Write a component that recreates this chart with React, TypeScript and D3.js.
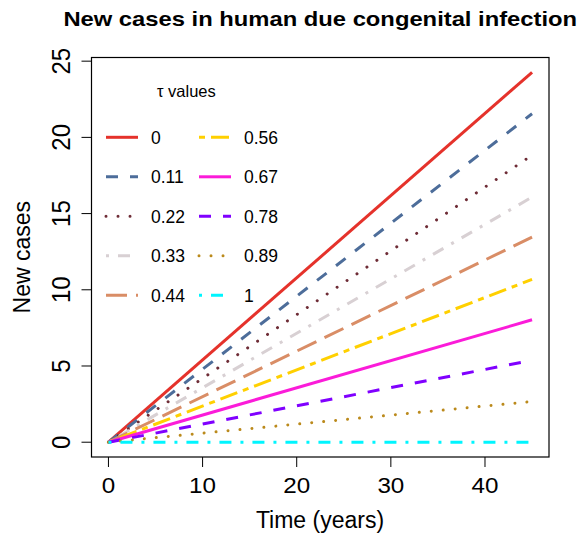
import React from "react";
import * as d3 from "d3";

const tauLabels = ["0", "0.11", "0.22", "0.33", "0.44", "0.56", "0.67", "0.78", "0.89", "1"];
const timeStart = 0;
const timeEnd = 45;
const casesAtStart = [0, 0, 0, 0, 0, 0, 0, 0, 0, 0];
const casesAtEnd = [24.27, 21.55, 18.83, 16.08, 13.45, 10.68, 8.03, 5.37, 2.67, 0];
const colors = ["#E5322B", "#4D6D9A", "#6E2C36", "#D8D0D3", "#D98D66", "#FFD000", "#FB1BD9", "#8000FF", "#BB8A1C", "#00F5FF"];
const ltys = ["solid", "dashed", "dotted", "dotdash", "longdash", "twodash", "solid", "dashed", "dotted", "dotdash"];
const xTicks = [0, 10, 20, 30, 40];
const yTicks = [0, 5, 10, 15, 20, 25];

const W = 582, H = 537;
const L = 91.5, R = 549, T = 57.5, B = 457;
const LW = 3;

function dashFor(lty: string): string | undefined {
  switch (lty) {
    case "dashed": return `${4 * LW} ${4 * LW}`;
    case "dotted": return `0.01 ${4 * LW}`;
    case "dotdash": return `${LW} ${3 * LW} ${4 * LW} ${3 * LW}`;
    case "longdash": return `${7 * LW} ${3 * LW}`;
    case "twodash": return `${2 * LW} ${2 * LW} ${6 * LW} ${2 * LW}`;
    default: return undefined;
  }
}

export default function App() {
  const xMin = timeStart, xMax = timeEnd;
  const yMin = 0, yMax = d3.max(casesAtEnd) as number;
  const xPad = (xMax - xMin) * 0.04, yPad = (yMax - yMin) * 0.04;
  const x = d3.scaleLinear().domain([xMin - xPad, xMax + xPad]).range([L, R]);
  const y = d3.scaleLinear().domain([yMin - yPad, yMax + yPad]).range([B, T]);
  const line = d3.line<[number, number]>().x((d) => x(d[0])).y((d) => y(d[1]));

  const font = "'Liberation Sans', Arial, Helvetica, sans-serif";
  const legendRows = 5;
  const legendY0 = 137.3, legendDY = 39.5;
  const colX = [106, 199];
  const segLen = 32;
  const labelOff = 45;
  const cx = (L + R) / 2;

  return (
    <svg width={W} height={H} style={{ position: "absolute", left: 0, top: 0, background: "#fff" }} fontFamily={font}>
      <rect x={0} y={0} width={W} height={H} fill="#fff" />
      <text x={cx} y={26.5} textAnchor="middle" fontWeight="bold" fontSize={20.5} transform={`translate(${cx},0) scale(1.16,1) translate(${-cx},0)`}>
        New cases in human due congenital infection
      </text>

      {tauLabels.map((t, i) => (
        <path
          key={t}
          d={line([[timeStart, casesAtStart[i]], [timeEnd, casesAtEnd[i]]]) || ""}
          fill="none"
          stroke={colors[i]}
          strokeWidth={LW}
          strokeDasharray={dashFor(ltys[i])}
          strokeLinecap={ltys[i] === "dotted" ? "round" : "butt"}
        />
      ))}

      <rect x={L} y={T} width={R - L} height={B - T} fill="none" stroke="#000" strokeWidth={1.2} />

      {xTicks.map((v) => (
        <g key={v}>
          <line x1={x(v)} x2={x(v)} y1={B} y2={B + 10} stroke="#000" strokeWidth={1} />
          <text x={x(v)} y={493} textAnchor="middle" fontSize={22} transform={`translate(${x(v)},0) scale(1.1,1) translate(${-x(v)},0)`}>{v}</text>
        </g>
      ))}
      {yTicks.map((v) => (
        <g key={v}>
          <line x1={L - 10} x2={L} y1={y(v)} y2={y(v)} stroke="#000" strokeWidth={1} />
          <text transform={`translate(70,${y(v)}) scale(1.05,1) rotate(-90)`} textAnchor="middle" fontSize={24}>{v}</text>
        </g>
      ))}

      <text x={320} y={527.5} textAnchor="middle" fontSize={23}>Time (years)</text>
      <text transform={`translate(29.5,${(T + B) / 2}) rotate(-90)`} textAnchor="middle" fontSize={23}>New cases</text>

      <text x={157} y={96.5} fontSize={16.5}>τ values</text>
      {tauLabels.map((t, i) => {
        const col = Math.floor(i / legendRows);
        const row = i % legendRows;
        const cy = legendY0 + row * legendDY;
        const x0 = colX[col];
        return (
          <g key={"lg" + t}>
            <line x1={x0} x2={x0 + segLen} y1={cy} y2={cy} stroke={colors[i]} strokeWidth={LW}
              strokeDasharray={dashFor(ltys[i])} strokeLinecap={ltys[i] === "dotted" ? "round" : "butt"} />
            <text x={x0 + labelOff} y={cy + 6.2} fontSize={17.5}>{t}</text>
          </g>
        );
      })}
    </svg>
  );
}
